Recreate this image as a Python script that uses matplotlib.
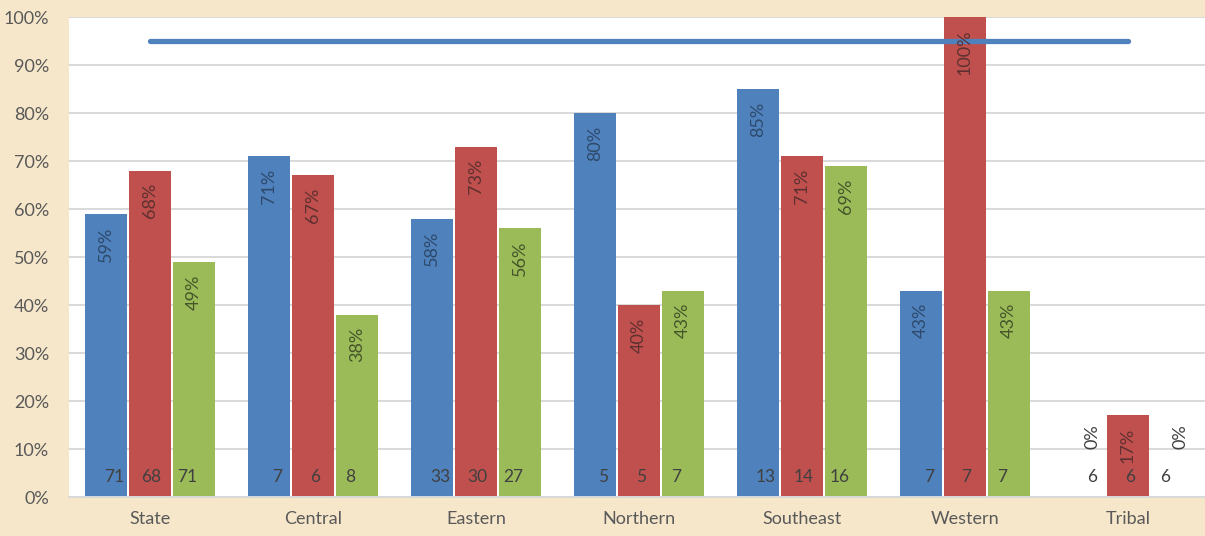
import matplotlib
matplotlib.use("Agg")
import matplotlib.pyplot as plt
import numpy as np

categories = ["State", "Central", "Eastern", "Northern", "Southeast", "Western", "Tribal"]
series1_pct = [59, 71, 58, 80, 85, 43, 0]
series2_pct = [68, 67, 73, 40, 71, 100, 17]
series3_pct = [49, 38, 56, 43, 69, 43, 0]
series1_n = [71, 7, 33, 5, 13, 7, 6]
series2_n = [68, 6, 30, 5, 14, 7, 6]
series3_n = [71, 8, 27, 7, 16, 7, 6]
target_pct = 95
y_ticks = [0, 10, 20, 30, 40, 50, 60, 70, 80, 90, 100]

plt.rcParams['font.family'] = ['Lato', 'DejaVu Sans']

bar_colors = ['#4F81BD', '#C0504D', '#9BBB59']
label_colors = ['#2E4A6B', '#5E3030', '#45552A']
count_color = '#404040'
tick_color = '#595959'

fig = plt.figure(figsize=(12.05, 5.36), dpi=100)
fig.patch.set_facecolor('#F6E7CA')
ax = fig.add_axes([68.5 / 1205, 39 / 536, 1141 / 1205, 480 / 536])
ax.set_facecolor('white')

x = np.arange(len(categories))
width = 0.252
offsets = [-0.27, 0.0, 0.27]
pcts = [series1_pct, series2_pct, series3_pct]
counts = [series1_n, series2_n, series3_n]
count_offsets = [-0.22, 0.01, 0.23]

for i in range(3):
    ax.bar(x + offsets[i], pcts[i], width=width, color=bar_colors[i], zorder=2)
    for j, v in enumerate(pcts[i]):
        if v >= 5:
            ax.text(x[j] + offsets[i], v - 2.6, f"{v}%", rotation=90, ha='center', va='top',
                    fontsize=13, color=label_colors[i], zorder=4)
        else:
            ax.text(x[j] + offsets[i] + 0.05, 10.0, f"{v}%", rotation=90, ha='center', va='bottom',
                    fontsize=13, color=count_color, zorder=4)
        ax.text(x[j] + count_offsets[i], 4.2, str(counts[i][j]), ha='center', va='center',
                fontsize=12.5, color=count_color, zorder=4)

ax.plot([x[0], x[-1]], [target_pct, target_pct], color='#4F81BD', linewidth=3.8,
        solid_capstyle='round', zorder=3)

ax.set_xlim(-0.5, len(categories) - 0.5)
ax.set_ylim(0, 100)
ax.set_yticks(y_ticks)
ax.set_yticklabels([f"{t}%" for t in y_ticks])
ax.set_xticks(x)
ax.set_xticklabels(categories)
ax.tick_params(axis='both', length=0, colors=tick_color, labelsize=13)
ax.tick_params(axis='y', pad=14)
ax.tick_params(axis='x', pad=10)
ax.grid(axis='y', color='#D9D9D9', linewidth=1.4, zorder=0)
ax.set_axisbelow(True)
for s in ['top', 'right', 'left']:
    ax.spines[s].set_visible(False)
ax.spines['bottom'].set_color('#D9D9D9')
ax.spines['bottom'].set_linewidth(1.4)

fig.savefig("out.png", dpi=100, facecolor=fig.get_facecolor())
